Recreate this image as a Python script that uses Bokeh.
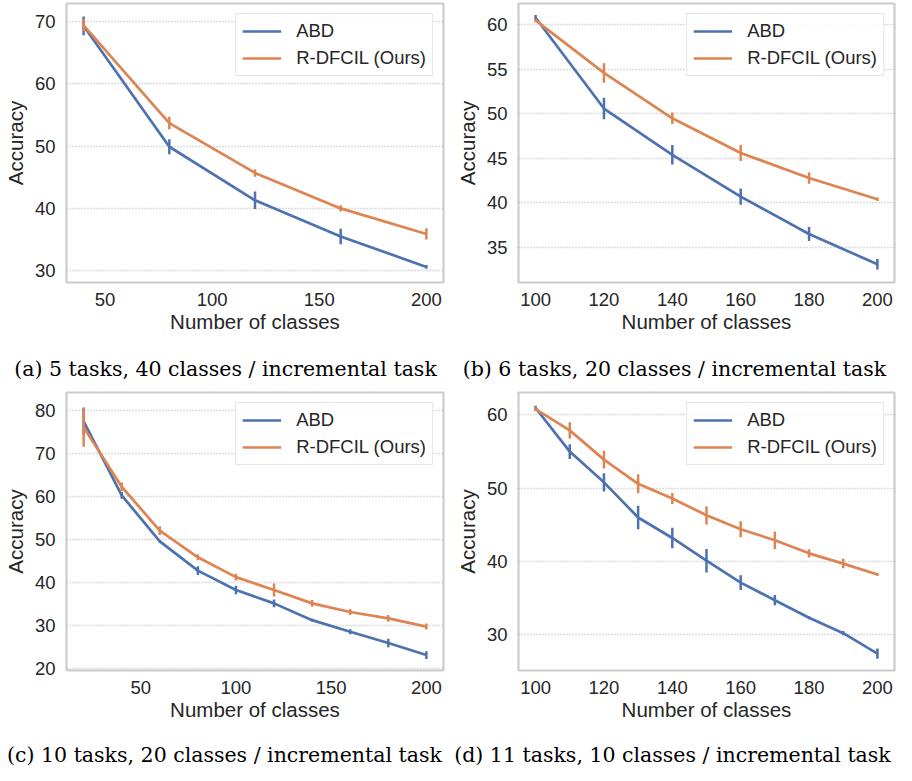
from bokeh.plotting import figure
from bokeh.models import Range1d, FixedTicker, ColumnDataSource, Legend, LegendItem
from bokeh.layouts import column, row
from bokeh.embed import file_html
from bokeh.resources import INLINE
from bokeh.core.properties import value

# ---------------- data ----------------
# (a) 5 tasks, 40 classes / incremental task
a_x = [40, 80, 120, 160, 200]
a_abd = [69.3, 49.9, 41.3, 35.5, 30.6]
a_abd_err = [1.5, 1.2, 1.4, 1.25, 0.3]
a_rdf = [69.4, 53.7, 45.7, 40.0, 35.9]
a_rdf_err = [1.0, 1.0, 0.6, 0.5, 0.9]

# (b) 6 tasks, 20 classes / incremental task
b_x = [100, 120, 140, 160, 180, 200]
b_abd = [60.8, 50.6, 45.4, 40.7, 36.5, 33.1]
b_abd_err = [0.3, 1.2, 1.1, 0.9, 0.8, 0.6]
b_rdf = [60.5, 54.6, 49.5, 45.6, 42.8, 40.4]
b_rdf_err = [0.2, 1.1, 0.65, 0.9, 0.65, 0.2]

# (c) 10 tasks, 20 classes / incremental task
c_x = [20, 40, 60, 80, 100, 120, 140, 160, 180, 200]
c_abd = [77.4, 60.2, 49.5, 42.7, 38.2, 35.1, 31.2, 28.5, 25.9, 23.1]
c_abd_err = [3.2, 0.8, 0.3, 1.0, 1.0, 0.9, 0.3, 0.6, 1.0, 0.9]
c_rdf = [76.0, 62.2, 52.0, 45.8, 41.2, 38.2, 35.1, 33.1, 31.6, 29.7]
c_rdf_err = [4.5, 1.0, 1.0, 0.7, 0.8, 1.5, 0.8, 0.7, 0.8, 0.7]

# (d) 11 tasks, 10 classes / incremental task
d_x = [100, 110, 120, 130, 140, 150, 160, 170, 180, 190, 200]
d_abd = [60.95, 55.0, 50.8, 46.0, 43.2, 40.1, 37.1, 34.7, 32.3, 30.2, 27.4]
d_abd_err = [0.3, 1.0, 1.25, 1.6, 1.4, 1.6, 1.0, 0.7, 0.2, 0.3, 0.7]
d_rdf = [60.8, 57.9, 53.9, 50.6, 48.6, 46.3, 44.4, 42.9, 41.1, 39.7, 38.2]
d_rdf_err = [0.3, 1.1, 1.2, 1.3, 0.75, 1.25, 1.1, 1.2, 0.55, 0.65, 0.2]

series_names = ["ABD", "R-DFCIL (Ours)"]
x_label = "Number of classes"
y_label = "Accuracy"

captions_top = ["(a) 5 tasks, 40 classes / incremental task",
                "(b) 6 tasks, 20 classes / incremental task"]
captions_bottom = ["(c) 10 tasks, 20 classes / incremental task",
                   "(d) 11 tasks, 10 classes / incremental task"]

a_xticks = [50, 100, 150, 200]
a_yticks = [30, 40, 50, 60, 70]
b_xticks = [100, 120, 140, 160, 180, 200]
b_yticks = [35, 40, 45, 50, 55, 60]
c_xticks = [50, 100, 150, 200]
c_yticks = [20, 30, 40, 50, 60, 70, 80]
d_xticks = [100, 120, 140, 160, 180, 200]
d_yticks = [30, 40, 50, 60]

# ---------------- style ----------------
BLUE = "#4C72B0"
ORANGE = "#DD8452"
TXT = "#262626"
FONT = "Liberation Sans"
SERIF = "DejaVu Serif"


def make_panel(xs, abd, abd_err, rdf, rdf_err, xr, yr, xticks, yticks,
               width, height, mb_left, mb_right, mb_top, mb_bottom):
    p = figure(width=width, height=height, x_range=Range1d(*xr), y_range=Range1d(*yr),
               output_backend="svg", toolbar_location=None,
               min_border_left=mb_left, min_border_right=mb_right,
               min_border_top=mb_top, min_border_bottom=mb_bottom)
    p.background_fill_color = "white"
    p.border_fill_color = "white"
    p.outline_line_color = "#cccccc"
    p.outline_line_width = 2.2

    p.xgrid.grid_line_color = None
    p.ygrid.grid_line_color = "#b8b8b8"
    p.ygrid.grid_line_width = 1.4
    p.ygrid.grid_line_dash = "1 2"

    for ax in (p.xaxis, p.yaxis):
        ax.axis_line_color = None
        ax.major_tick_line_color = None
        ax.minor_tick_line_color = None
        ax.major_tick_out = 0
        ax.major_tick_in = 0
        ax.major_label_text_font = FONT
        ax.major_label_text_font_size = "18.5px"
        ax.major_label_text_color = TXT
        ax.axis_label_text_font = FONT
        ax.axis_label_text_font_size = "20.5px"
        ax.axis_label_text_font_style = "normal"
        ax.axis_label_text_color = TXT
    p.xaxis.ticker = FixedTicker(ticks=xticks)
    p.yaxis.ticker = FixedTicker(ticks=yticks)
    p.xaxis.axis_label = x_label
    p.yaxis.axis_label = y_label
    p.xaxis.major_label_standoff = 10
    p.xaxis.axis_label_standoff = 1
    p.yaxis.major_label_standoff = 11
    p.yaxis.axis_label_standoff = 5

    items = []
    for name, ys, errs, col in ((series_names[0], abd, abd_err, BLUE),
                                (series_names[1], rdf, rdf_err, ORANGE)):
        src = ColumnDataSource(dict(
            x=xs, y=ys,
            lo=[y - e for y, e in zip(ys, errs)],
            hi=[y + e for y, e in zip(ys, errs)]))
        r = p.line("x", "y", source=src, line_color=col, line_width=2.7)
        p.segment(x0="x", y0="lo", x1="x", y1="hi", source=src,
                  line_color=col, line_width=2.5)
        items.append(LegendItem(label=name, renderers=[r]))

    leg = Legend(items=items, location="top_right", margin=10,
                 padding=6, spacing=5, glyph_width=39, glyph_height=20,
                 label_standoff=15, label_text_font=FONT,
                 label_text_font_size="18.5px", label_text_color=TXT,
                 border_line_color="#cccccc", border_line_width=1.2,
                 background_fill_color="white", background_fill_alpha=0.85)
    p.add_layout(leg)
    return p


def make_caption(texts, centers, width, height, ypos):
    c = figure(width=width, height=height, x_range=Range1d(0, width),
               y_range=Range1d(0, height), output_backend="svg",
               toolbar_location=None, min_border=0)
    c.axis.visible = False
    c.grid.visible = False
    c.outline_line_color = None
    c.background_fill_color = "white"
    c.border_fill_color = "white"
    src = ColumnDataSource(dict(x=centers, y=[ypos] * len(texts), t=texts))
    c.text(x="x", y="y", text="t", source=src, text_align="center",
           text_baseline="middle", text_font=value(SERIF),
           text_font_size="20.5px", text_color="black")
    return c


# row 1: fig a 452 wide (frame 65-443), fig b 444 wide (frame 518-894)
pa = make_panel(a_x, a_abd, a_abd_err, a_rdf, a_rdf_err, (32, 208), (28.1, 72.9),
                a_xticks, a_yticks, 452, 336, 65, 9, 3, 54)
pb = make_panel(b_x, b_abd, b_abd_err, b_rdf, b_rdf_err, (95, 205), (31.05, 62.4),
                b_xticks, b_yticks, 444, 336, 66, 2, 3, 54)
pc = make_panel(c_x, c_abd, c_abd_err, c_rdf, c_rdf_err, (11, 209), (19.5, 84.1),
                c_xticks, c_yticks, 452, 338, 65, 9, 6, 54)
pd_ = make_panel(d_x, d_abd, d_abd_err, d_rdf, d_rdf_err, (95, 205), (25.1, 63.07),
                 d_xticks, d_yticks, 444, 338, 66, 2, 6, 54)

cap1 = make_caption(captions_top, [225, 674], 896, 50, 18)
cap2 = make_caption(captions_bottom, [224, 672], 896, 41, 11)

layout = column(row(pa, pb), cap1, row(pc, pd_), cap2)

with open("out.html", "w") as f:
    f.write(file_html(layout, INLINE))
